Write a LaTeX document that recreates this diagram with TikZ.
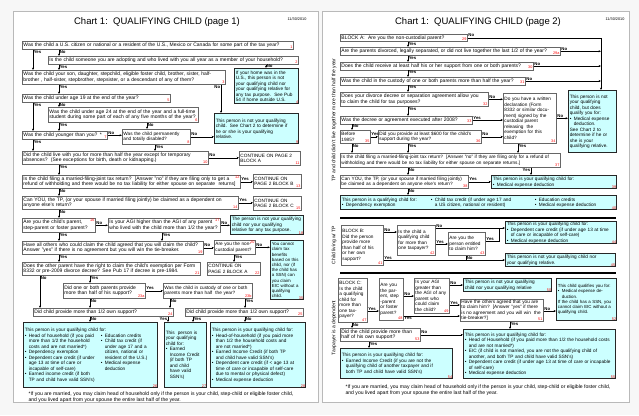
\documentclass[tikz,border=0pt]{standalone}
\usepackage{fontspec}
\setmainfont{Liberation Sans}
\usetikzlibrary{arrows.meta}
\definecolor{cy}{HTML}{CCFFFF}
\newcommand\fb{\fontsize{4.7}{5.5}\selectfont}
\newcommand\fm{\fontsize{5.0}{5.8}\selectfont}
\newcommand\fs{\fontsize{4.4}{5.2}\selectfont}
\newcommand\fl{\fontsize{4.3}{5}\selectfont\bfseries}
\newcommand\fr{\fontsize{3.8}{4}\selectfont}
\newcommand\bu{\makebox[4pt][l]{\textbullet}}
\newcommand\ii{\hspace*{4pt}}
\begin{document}
\begin{tikzpicture}[x=1pt,y=-1pt,
 qb/.style={draw=black!60, line width=0.55pt, fill=white, anchor=north west, align=left, inner xsep=1.2pt, inner ysep=0.6pt, font=\fb},
 qm/.style={qb, font=\fm},
 cb/.style={qb, fill=cy, draw=black!85, line width=1.3pt},
 wh/.code 2 args={\pgfmathsetmacro\tw{#1-2.4}\pgfkeysalso{minimum width=#1pt,text width=\tw pt,minimum height=#2pt}},
 nr/.style={label={[font=\fr,text=red,inner sep=0.9pt,anchor=south east]south east:#1}},
 nrt/.style={label={[font=\fr,text=red,inner sep=0.9pt,anchor=north east]north east:#1}},
 ar/.style={draw=black, line width=0.5pt, -{Stealth[length=2.4pt,width=2pt]}},
 ln/.style={draw=black, line width=0.5pt},
 yl/.style={font=\fl, inner sep=0.6pt},
 dn/.style={yl,pos=0,anchor=north west},
 dl/.style={yl,pos=0,anchor=north east},
 rt/.style={yl,pos=0,anchor=south west},
]
\useasboundingbox (0,0) rectangle (639,415);
\fill[gray!6] (0,0) rectangle (639,415);
\draw[gray!55, fill=white, line width=0.6pt] (13,11) rectangle (318,402);
\draw[gray!55, fill=white, line width=0.6pt] (322,11) rectangle (629,402);

% ---------------- page 1 ----------------
\node[font=\fontsize{9.5}{11}\selectfont] (t1) at (157,22) {Chart 1:\ \ QUALIFYING CHILD (page 1)};
\node[font=\fr] (d1) at (297,19) {11/30/2010};

\node[qm,wh={271}{8},nr=1] (b1) at (22,41) {Was the child a U.S. citizen or national or a resident of the U.S., Mexico or Canada for some part of the tax year?};
\node[qm,wh={250}{8},nr=2] (b2) at (48,56) {Is the child someone you are adopting and who lived with you all year as a member of your household?};
\node[qm,wh={203}{14},nr=3] (b3) at (22,70) {Was the child your son, daughter, stepchild, eligible foster child, brother, sister, half-\\brother , half-sister, stepbrother, stepsister, or a descendant of any of them?};
\node[cb,wh={64}{35},nr=4] (hm) at (234,68) {If your home was in the\\U.S., this person is not\\your qualifying child nor\\your qualifying relative for\\any tax purpose.\ \ See Pub\\54 if home outside U.S.};
\node[qm,wh={148}{8},nr=5] (b4) at (22,94) {Was the child under age 19 at the end of the year?};
\node[qm,wh={150}{15},nr=6] (b6) at (48,107) {Was the child under age 24 at the end of the year and a full-time\\student during some part of each of any five months of the year?};
\node[qm,wh={85}{8},nr=7] (b7) at (22,131) {Was the child younger than you? *};
\node[qb,wh={68}{15},nr=8] (b8) at (122,129) {Was the child permanently\\and totally disabled?};
\node[cb,wh={84}{30},nr=9] (c9) at (214,113) {This person is not your qualifying\\child.\ \ See Chart 2 to determine if\\he or she is your qualifying\\relative.};
\node[qm,wh={186}{13},nr=10] (b10) at (22,151) {Did the child live with you for more than half the year except for temporary\\absences?\ \ (See exceptions for birth, death or kidnapping.)};
\node[qb,wh={61}{14},nr=11] (b11) at (239,151) {CONTINUE ON PAGE 2\\BLOCK A};
\node[qm,wh={218}{13},nrt=12] (b12) at (22,175) {Is the child filing a married-filing-joint tax return?\ \ [Answer "no" if they are filing only to get a\\refund of withholding and there would be no tax liability for either spouse on separate\ \ returns]};
\node[qb,wh={48}{14},nr=13] (b13) at (253,174) {CONTINUE ON\\PAGE 2 BLOCK B};
\node[qm,wh={216}{13},nr=14] (b14) at (22,196) {Can YOU, the TP, (or your spouse if married filing jointly) be claimed as a dependent on\\anyone else's return?};
\node[qb,wh={48}{14},nr=15] (b15) at (253,196) {CONTINUE ON\\PAGE 2 BLOCK C};
\node[qm,wh={73}{14},nrt=16] (b16) at (22,218) {Are you the child's parent,\\step-parent or foster parent?};
\node[qm,wh={112}{14},nrt=17] (b17) at (108,218) {Is your AGI higher than the AGI of any parent\\who lived with the child more than 1/2 the year?};
\node[cb,wh={73}{19},nr=18] (c18) at (230,215) {The person is not your qualifying\\child nor your qualifying\\relative for any tax purpose.};
\node[qm,wh={181}{13},nr=19] (b19) at (22,241) {Have all others who could claim the child agreed that you will claim the child?\\Answer "yes" if there is no agreement but you will win the tie-breaker.};
\node[qb,wh={41}{14},nrt=20] (b20) at (214,240) {Are you the non-\\custodial parent?};
\node[cb,wh={33}{59},nr=35,font=\fs] (c35) at (270,240) {You cannot\\claim tax\\benefits\\based on this\\child, nor (if\\the child has\\a SSN) can\\you claim\\EIC without a\\qualifying\\child.};
\node[qb,wh={53}{13},nr=22] (b22) at (207,262) {CONTINUE ON\\PAGE 2 BLOCK A};
\node[qm,wh={178}{13},nr=21] (b21) at (22,262) {Does the other parent have the right to claim the child's exemption per Form\\8332 or pre-2009 divorce decree? See Pub 17 if decree is pre-1984.};
\node[qm,wh={82}{15},nr=23a] (b23) at (63,283) {Did one or both parents provide\\more than half of his support?};
\node[qb,wh={89}{15},nr=23b] (b23b) at (163,283) {Was the child in custody of one or both\\parents more than half\ \ the year?};
\node[qm,wh={140}{8},nr=24] (b24) at (33,308) {Did child provide more than 1/2 own support?};
\node[qm,wh={118}{8},nr=25] (b25) at (185,308) {Did child provide more than 1/2 own support?};
\node[cb,wh={134}{65},nr=26] (c26) at (23,322) {This person is your qualifying child for:\\%
\begin{minipage}[t]{76pt}\bu Head of household (if you paid\\\ii more than 1/2 the household\\\ii costs and are not married*)\\\bu Dependency exemption\\\bu Dependent care credit (if under\\\ii age 13 at time of care or\\\ii incapable of self-care)\\\bu Earned income credit (if both\\\ii TP and child have valid SSN's)\end{minipage}%
\begin{minipage}[t]{54pt}\bu Education credits\\\bu Child tax credit (if\\\ii under age 17 and a\\\ii citizen, national or\\\ii resident of the U.S.)\\\bu Medical expense\\\ii deduction\end{minipage}};
\node[cb,wh={42}{65},nr=27] (c27) at (164,322) {This\ \ person is\\your qualifying\\child for:\\\bu Earned\\\ii Income Credit\\\ii (if both TP\\\ii and child\\\ii have valid\\\ii SSN's)};
\node[cb,wh={95}{65},nr=28] (c28) at (210,322) {This person is your qualifying child for:\\\bu Head-of-household (if you paid more\\\ii than 1/2 the household costs and\\\ii are not married*)\\\bu Earned Income Credit (if both TP\\\ii and child have valid SSN's)\\\bu Dependent care credit (if \textless{} age 13 at\\\ii time of care or incapable of self-care\\\ii due to mental or physical defect)\\\bu Medical expense deduction};
\node[font=\fontsize{5.1}{6}\selectfont, anchor=north west, align=left] (f1) at (25,388) {*If you are married, you may claim head of household only if the person is your child, step-child or eligible foster child,\\and you lived apart from your spouse the entire last half of the year.};

% page 1 connectors
\draw[ar] (b1.south -| 33,0) -- (b3.north -| 33,0) node[dn] (l1) {Yes};
\draw[ar] (b1.south -| 59,0) -- (b2.north -| 59,0) node[dn] (l2) {No};
\draw[ar] (b2.south -| 59,0) -- (b3.north -| 59,0) node[dn] (l3) {Yes};
\draw[ar] (b2.south -| 266,0) -- (hm.north -| 266,0) node[yl,pos=0.5,anchor=west] (l4) {No};
\draw[ar] (b3.south -| 221,0) -- (c9.north -| 221,0) node[dl] (l5) {No};
\draw[ar] (b3.south -| 59,0) -- (b4.north -| 59,0) node[dn] (l6) {Yes};
\draw[ar] (b4.south -| 33,0) -- (b7.north -| 33,0) node[dn] (l7) {Yes};
\draw[ar] (b4.south -| 59,0) -- (b6.north -| 59,0) node[dn] (l8) {No};
\draw[ar] (b6.south -| 59,0) -- (b7.north -| 59,0) node[dn] (l9) {Yes};
\draw[ar] (b6.south -| 147,0) -- (b8.north -| 147,0) node[dn] (l10) {No};
\draw[ar] (b7.east) -- (b8.west |- b7.east) node[rt] (l11) {No};
\draw[ar] (b8.east) -- (c9.west |- b8.east) node[rt] (l12) {No};
\draw[ar] (b7.south -| 33,0) -- (b10.north -| 33,0) node[dn] (l13) {Yes};
\draw[ar] (b8.south -| 155,0) -- (b10.north -| 155,0) node[dn] (l14) {Yes};
\draw[ar] (b10.east) -- (b11.west |- b10.east) node[rt] (l15) {No};
\draw[ar] (b10.south -| 59,0) -- (b12.north -| 59,0) node[dn] (l16) {Yes};
\draw[ar] (b12.east) -- (b13.west |- b12.east) node[rt] (l17) {Yes};
\draw[ar] (b12.south -| 59,0) -- (b14.north -| 59,0) node[dn] (l18) {No};
\draw[ar] (b14.east) -- (b15.west |- b14.east) node[rt] (l19) {Yes};
\draw[ar] (b14.south -| 59,0) -- (b16.north -| 59,0) node[dn] (l20) {No};
\draw[ar] (b16.east) -- (b17.west |- b16.east) node[rt] (l21) {No};
\draw[ar] (b17.east) -- (c18.west |- b17.east) node[rt] (l22) {No};
\draw[ar] (b17.south -| 162,0) -- (b19.north -| 162,0) node[dn] (l23) {Yes};
\draw[ar] (b16.south -| 59,0) -- (b19.north -| 59,0) node[dn] (l24) {Yes};
\draw[ar] (b19.east) -- (b20.west |- b19.east) node[rt] (l25) {No};
\draw[ar] (b20.east) -- (c35.west |- b20.east) node[rt] (l26) {No};
\draw[ar] (b20.south -| 234,0) -- (b22.north -| 234,0) node[dn] (l27) {Yes};
\draw[ar] (b19.south -| 59,0) -- (b21.north -| 59,0) node[dn] (l28) {Yes};
\draw[ar] (b21.south -| 90,0) -- (b23.north -| 90,0) node[dn] (l29) {Yes};
\draw[ar] (b21.south -| 40,0) -- (b24.north -| 40,0) node[dn] (l30) {No};
\draw[ar] (b23.east) -- (b23b.west |- b23.east) node[rt] (l31) {Yes};
\draw[ar] (b23.south -| 90,0) -- (b24.north -| 90,0) node[dn] (l32) {No};
\draw[ar] (b23b.south -| 170,0) -- (b24.north -| 170,0) node[dn] (l33) {No};
\draw[ar] (b23b.south -| 245,0) -- (b25.north -| 245,0) node[dn] (l34) {Yes};
\draw[ar] (b24.south -| 90,0) -- (c26.north -| 90,0) node[dn] (l35) {No};
\draw[ar] (b24.south -| 168,0) -- (c27.north -| 168,0) node[dl] (l36) {Yes};
\draw[ar] (b25.south -| 193,0) -- (c27.north -| 193,0) node[dn] (l37) {Yes};
\draw[ar] (b25.south -| 245,0) -- (c28.north -| 245,0) node[dn] (l38) {No};

% ---------------- page 2 ----------------
\node[font=\fontsize{9.5}{11}\selectfont] (t2) at (478,22) {Chart 1:\ \ QUALIFYING CHILD (page 2)};
\node[font=\fr] (d2) at (615,19) {11/30/2010};
\node[font=\fontsize{5}{6}\selectfont, rotate=90] (v1) at (334,120) {TP and child didn't live together more than half the year};
\node[font=\fontsize{5}{6}\selectfont, rotate=90] (v2) at (334,245) {Child living w/ TP};
\node[font=\fontsize{5}{6}\selectfont, rotate=90] (v3) at (334,328) {Taxpayer is a dependent};

\node[qm,wh={127}{7},nr=29] (a1) at (340,34) {BLOCK A:\ \ Are you the non-custodial parent?};
\node[qm,wh={220}{8},nr=29a] (a2) at (340,47) {Are the parents divorced, legally separated, or did not live together the last 1/2 of the year?};
\node[qm,wh={193}{7.5},nr=30] (a3) at (340,62) {Does the child receive at least half his or her support from one or both parents?};
\node[qm,wh={185}{7.5},nr=31] (a4) at (340,77) {Was the child in the custody of one or both parents more than half the year?};
\node[qm,wh={148}{14},nr=32] (a5) at (340,92) {Does your divorce decree or separation agreement allow you\\to claim the child for tax purposes?};
\node[qb,wh={53}{50},nr=34] (a9) at (503,93) {Do you have a written\\declaration (Form\\8332 or similar docu-\\ment) signed by the\\custodial parent\\releasing\ \ the\\exemption for this\\child?};
\node[cb,wh={48}{62}] (nq) at (568,90) {This person is not\\your qualifying\\child, but does\\qualify you for:\\\bu Medical expense\\\ii deduction.\\See Chart 2 to\\determine if he or\\she is your\\qualifying relative.};
\node[qm,wh={132}{7.5},nr=33] (a6) at (340,116) {Was the decree or agreement executed after 2008?};
\node[qb,wh={30}{13},nr=35] (bf) at (340,130) {Before\\1985?};
\node[qb,wh={103}{13},nr=36] (p6) at (378,130) {Did you provide at least \$600 for the child's\\support during the year?};
\node[qb,wh={220}{14},nr=37] (a8) at (340,153) {Is the child filing a married-filing-joint tax return?\ \ [Answer "no" if they are filing only for a refund of\\withholding and there would be no tax liability for either spouse on separate returns.]};
\node[qb,wh={128}{13},nr=38] (a10) at (340,175) {Can YOU, the TP, (or your spouse if married filing jointly)\\be claimed as a dependent on anyone else's return?};
\node[cb,wh={125}{13},nr=39] (md) at (491,175) {This person is your qualifying child for:\\\bu Medical expense deduction};
\node[cb,wh={276}{14},nr=40] (a11) at (340,195) {\begin{minipage}[t]{89pt}This person is a qualifying child for:\\\bu Dependency exemption\end{minipage}%
\begin{minipage}[t]{104pt}\bu Child tax credit (if under age 17 and\\\ii a US citizen, national or resident)\end{minipage}%
\begin{minipage}[t]{78pt}\bu Education credits\\\bu Medical expense deduction\end{minipage}};

\draw[line width=1.6pt] (340,218) -- (616,218);
\draw[line width=1.6pt] (340,273) -- (616,273);

\node[qb,wh={42}{40},nr=41] (b1r) at (341,225) {BLOCK B:\\Did the person\\provide more\\than half of his\\or her own\\support?};
\node[qb,wh={38}{30},nr=42] (b2r) at (397,225) {Is the child a\\qualifying child\\for more than\\one taxpayer?};
\node[qb,wh={37}{23},nr=43] (b3r) at (448,232) {Are you the\\person entitled\\to claim him?};
\node[cb,wh={111}{22},nr=44] (b4r) at (505,221) {This person is your qualifying child for:\\\bu Dependent care credit (if under age 13 at time\\\ii of care or incapable of self-care)\\\bu Medical expense deduction};
\node[cb,wh={110}{13},nr=45] (b5r) at (505,253) {This person is not your qualifying child nor\\your qualifying relative.};

\node[qb,wh={29}{44},nr=47] (c1) at (338,278) {BLOCK C:\\Is the child\\a qualifying\\child for\\more than\\one tax-\\payer?};
\node[qb,wh={24}{42},nr=48] (c2) at (379,278) {Are you\\the par-\\ent, step\\-parent\\or foster\\parent?};
\node[qb,wh={35}{35},nr=49] (c3) at (414,278) {Is your AGI\\greater than\\the AGI of any\\parent who\\could claim\\the child?};
\node[cb,wh={88}{13},nr=50] (c4) at (463,278) {This person is not your qualifying\\child nor your qualifying relative};
\node[qb,wh={83}{20},nr=51] (c5) at (460,299) {Have the others agreed that you are\\to claim him?\ \ [Answer "yes" if there\\is no agreement and you will win\ \ the\\tie-breaker?]};
\node[cb,wh={60}{42},nr=52,font=\fs] (c6) at (556,278) {This child qualifies you for:\\\bu Medical expense de-\\\ii duction.\\If the child has a SSN, you\\cannot claim EIC without a\\qualifying child.};
\node[qm,wh={80}{13},nr=53] (c8) at (340,328) {Did the child provide more than\\half of his own support?};
\node[cb,wh={152}{49},nr=55] (c7) at (463,329) {This person is your qualifying child for:\\\bu Head of Household (if you paid more than 1/2 the household costs\\\ii and are not married*)\\\bu EIC (if child is not married, you are not the qualifying child of\\\ii another, and both TP and child have valid SSN's)\\\bu Dependent care credit (if under age 13 at time of care or incapable\\\ii of self-care)\\\bu Medical expense deduction};
\node[cb,wh={112}{30},nr=54] (c9r) at (340,348) {This person is your qualifying child for:\\\bu Earned Income Credit (if you are not the\\\ii qualifying child of another taxpayer and if\\\ii both TP and child have valid SSN's)};
\node[font=\fontsize{5.1}{6}\selectfont, anchor=north west, align=left] (f2) at (342,381) {*If you are married, you may claim head of household only if the person is your child, step-child or eligible foster child,\\and you lived apart from your spouse the entire last half of the year.};

% page 2 connectors
\draw[ar] (a1.east) -| (nq.north -| 601,0) node[rt] (r1) {No};
\draw[ar] (a2.east) -- (a2.east -| 601,0) node[rt] (r2) {No};
\draw[ar] (a3.east) -- (a3.east -| 601,0) node[rt] (r3) {No};
\draw[ar] (a4.east) -- (a4.east -| 601,0) node[rt] (r4) {No};
\draw[ar] (a1.south -| 408,0) -- (a2.north -| 408,0) node[dn] (r5) {Yes};
\draw[ar] (a2.south -| 408,0) -- (a3.north -| 408,0) node[dn] (r6) {Yes};
\draw[ar] (a3.south -| 408,0) -- (a4.north -| 408,0) node[dn] (r7) {Yes};
\draw[ar] (a4.south -| 408,0) -- (a5.north -| 408,0) node[dn] (r8) {Yes};
\draw[ar] (a5.south -| 408,0) -- (a6.north -| 408,0) node[dn] (r9) {Yes};
\draw[ar] (a5.east) -- (a9.west |- a5.east) node[rt] (r10) {No};
\draw[ar] (a6.east) -- (a9.west |- a6.east) node[rt] (r11) {Yes};
\draw[ar] (a6.south -| 352,0) -- (bf.north -| 352,0) node[dn] (r12) {No};
\draw[ar] (bf.east) -- (p6.west |- bf.east) node[rt] (r13) {Yes};
\draw[ar] (p6.east) -- (a9.west |- p6.east) node[rt] (r14) {No};
\draw[ar] (a9.east) -- (nq.west |- a9.east) node[rt] (r15) {No};
\draw[ar] (a9.south -| 518,0) -- (a8.north -| 518,0) node[dn] (r16) {Yes};
\draw[ar] (bf.south -| 352,0) -- (a8.north -| 352,0) node[dn] (r17) {No};
\draw[ar] (p6.south -| 408,0) -- (a8.north -| 408,0) node[dn] (r18) {Yes};
\draw[ar] (a8.south -| 408,0) -- (a10.north -| 408,0) node[dn] (r19) {No};
\draw[ar] (a8.south -| 531,0) -- (md.north -| 531,0) node[dl] (r20) {Yes};
\draw[ar] (a10.east) -- (md.west |- a10.east) node[rt] (r21) {Yes};
\draw[ar] (a10.south -| 408,0) -- (a11.north -| 408,0) node[dn] (r22) {No};

\draw[ar] (b1r.east |- 0,232) -- (b2r.west |- 0,232) node[rt] (r23) {No};
\draw[ar] (b2r.east |- 0,244) -- (b3r.west |- 0,244) node[rt] (r24) {Yes};
\draw[ar] (b2r.east |- 0,228) -- (b4r.west |- 0,228) node[rt] (r25) {No};
\coordinate (jb) at (499,228);
\draw[ln] (b3r.east |- 0,241) -| (jb) node[rt] (r26) {Yes};
\draw[ar] (b1r.east |- 0,260) -- (b5r.west |- 0,260) node[rt] (r27) {Yes};
\coordinate (jc) at (466,260);
\draw[ln] (b3r.south -| jc) -- (jc) node[dn] (r28) {No};

\draw[ar] (c1.east |- 0,311) -- (c2.west |- 0,311) node[rt] (r29) {Yes};
\draw[ar] (c2.east |- 0,296) -- (c3.west |- 0,296) node[rt] (r30) {No};
\draw[ar] (c3.east |- 0,285) -- (c4.west |- 0,285) node[rt] (r31) {No};
\draw[ar] (c3.east |- 0,305) -- (c5.west |- 0,305) node[rt] (r32) {Yes};
\draw[ar] (c2.east |- 0,316) -- (c5.west |- 0,316) node[dn] (r33) {Yes};
\draw[ar] (c5.east |- 0,311) -- (c6.west |- 0,311) node[rt] (r34) {No};
\draw[ar] (c5.south -| 510,0) -- (c7.north -| 510,0) node[dn] (r35) {Yes};
\draw[ar] (c1.south -| 352,0) -- (c8.north -| 352,0) node[dn] (r36) {No};
\draw[ar] (c8.east) -- (c7.west |- c8.east) node[rt] (r37) {No};
\draw[ar] (c8.south -| 369,0) -- (c9r.north -| 369,0) node[dn] (r38) {Yes};
\end{tikzpicture}
\end{document}
